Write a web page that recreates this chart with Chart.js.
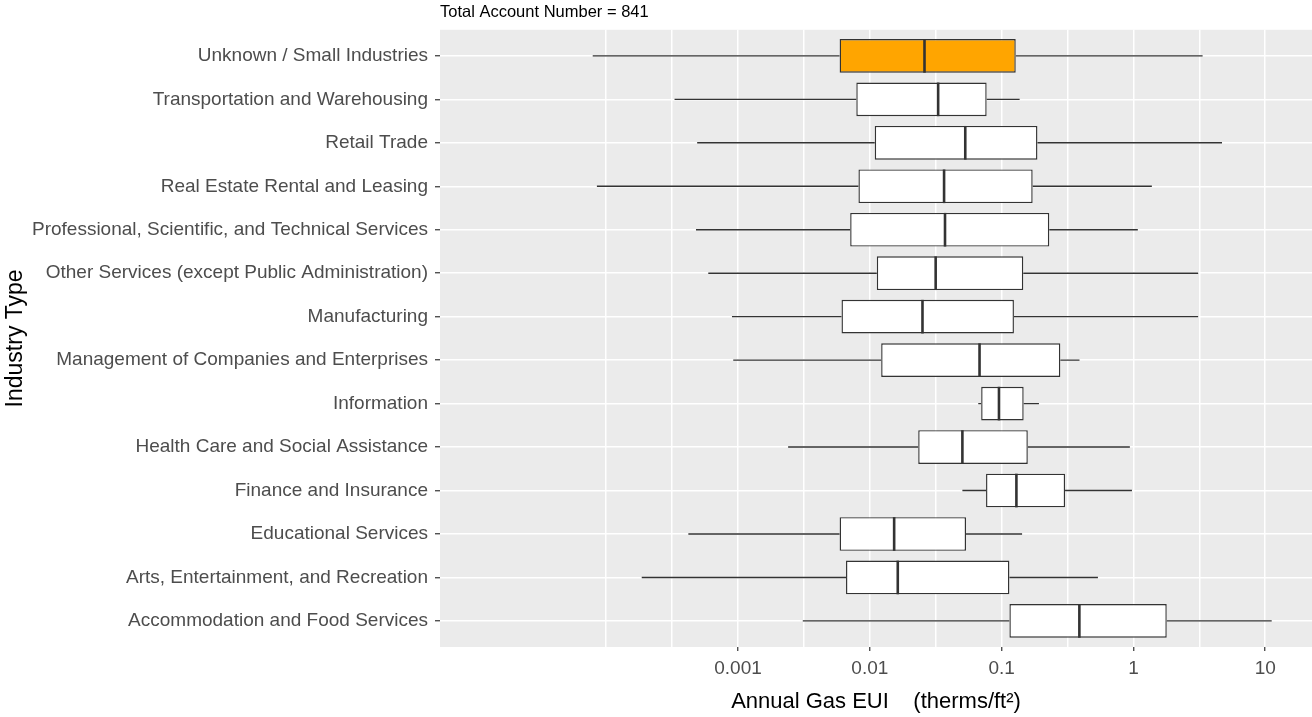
<!DOCTYPE html>
<html>
<head>
<meta charset="utf-8">
<title>Annual Gas EUI by Industry Type</title>
<script src="https://cdn.jsdelivr.net/npm/chart.js@4.4.0/dist/chart.umd.min.js"></script>
<style>
  body { margin: 0; background: #fff; }
  canvas { display: block; }
</style>
</head>
<body>
<canvas id="canvas" width="1312" height="717"></canvas>
<script>

//DATA - boxplot stats (therms/ft2)

const industries = [
  'Unknown / Small Industries',
  'Transportation and Warehousing',
  'Retail Trade',
  'Real Estate Rental and Leasing',
  'Professional, Scientific, and Technical Services',
  'Other Services (except Public Administration)',
  'Manufacturing',
  'Management of Companies and Enterprises',
  'Information',
  'Health Care and Social Assistance',
  'Finance and Insurance',
  'Educational Services',
  'Arts, Entertainment, and Recreation',
  'Accommodation and Food Services'
]

const whiskerLow  = [0.000079, 0.00033, 0.00049, 0.000085, 0.00048, 0.000595, 0.0009, 0.00092, 0.0665, 0.0024, 0.0504, 0.00042, 0.000186, 0.0031]
const q1          = [0.0059, 0.0079, 0.0109, 0.0082, 0.0071, 0.0113, 0.0061, 0.0122, 0.070, 0.0233, 0.0762, 0.0059, 0.0066, 0.1146]
const median      = [0.026, 0.033, 0.053, 0.0366, 0.0372, 0.0316, 0.0251, 0.068, 0.0955, 0.0504, 0.1295, 0.0153, 0.0163, 0.389]
const q3          = [0.128, 0.077, 0.187, 0.172, 0.23, 0.146, 0.124, 0.279, 0.147, 0.158, 0.303, 0.0537, 0.1146, 1.79]
const whiskerHigh = [3.35, 0.137, 4.7, 1.38, 1.08, 3.1, 3.1, 0.39, 0.192, 0.94, 0.975, 0.143, 0.538, 11.2]

const xTickValues = [0.001, 0.01, 0.1, 1, 10]
const xTickLabels = ['0.001', '0.01', '0.1', '1', '10']
const xGridValues = [0.0001, 0.000316, 0.001, 0.00316, 0.01, 0.0316, 0.1, 0.316, 1, 3.16, 10]

const totalAccounts = 841
const highlighted = 'Unknown / Small Industries'

//AXIS LIMITS (log range of the panel, ggplot keeps room for hidden outliers)
const xMin = Math.pow(10, -5.261)
const xMax = Math.pow(10, 1.355)

//PLUGINS

// grey panel behind the grid
const panelBackground = {
  id: 'panelBackground',
  beforeDraw(chart) {
    const { ctx, chartArea } = chart
    ctx.save()
    ctx.fillStyle = '#EBEBEB'
    ctx.fillRect(chartArea.left, chartArea.top, chartArea.width, chartArea.height)
    ctx.restore()
  }
}

// whiskers under the boxes, median on top
const boxWhiskers = {
  id: 'boxWhiskers',
  beforeDatasetsDraw(chart) {
    const { ctx, scales: { x, y } } = chart
    ctx.save()
    ctx.strokeStyle = '#333333'
    ctx.lineWidth = 1.4
    industries.forEach((name, i) => {
      let yy = y.getPixelForValue(i)
      ctx.beginPath()
      ctx.moveTo(x.getPixelForValue(whiskerLow[i]), yy)
      ctx.lineTo(x.getPixelForValue(q1[i]), yy)
      ctx.moveTo(x.getPixelForValue(q3[i]), yy)
      ctx.lineTo(x.getPixelForValue(whiskerHigh[i]), yy)
      ctx.stroke()
    })
    ctx.restore()
  },
  afterDatasetsDraw(chart) {
    const { ctx, scales: { x } } = chart
    const meta = chart.getDatasetMeta(0)
    ctx.save()
    ctx.strokeStyle = '#333333'
    ctx.lineWidth = 2.6
    meta.data.forEach((bar, i) => {
      let mx = x.getPixelForValue(median[i])
      let half = bar.height / 2
      ctx.beginPath()
      ctx.moveTo(mx, bar.y - half)
      ctx.lineTo(mx, bar.y + half)
      ctx.stroke()
    })
    ctx.restore()
  }
}

//CHART

Chart.defaults.font.family = '"Liberation Sans", Arial, sans-serif'

var ctx = document.getElementById('canvas').getContext('2d')
window.boxChart = new Chart(ctx, {
  type: 'bar',
  data: {
    datasets: [{
      data: industries.map((name, i) => ({ y: i, x: [q1[i], q3[i]] })),
      backgroundColor: industries.map(name => name === highlighted ? '#FFA500' : '#FFFFFF'),
      borderColor: '#333333',
      borderWidth: 1.4,
      borderSkipped: false,
      categoryPercentage: 1,
      barPercentage: 0.775
    }]
  },
  options: {
    indexAxis: 'y',
    responsive: false,
    animation: false,
    layout: { padding: 0 },
    plugins: {
      legend: { display: false },
      tooltip: { enabled: false },
      title: {
        display: true,
        text: 'Total Account Number = ' + totalAccounts,
        align: 'start',
        fullSize: false,
        color: '#000000',
        font: { size: 16.5, weight: 'normal' },
        padding: { top: 3, bottom: 7 }
      }
    },
    scales: {
      x: {
        type: 'logarithmic',
        position: 'bottom',
        min: xMin,
        max: xMax,
        afterBuildTicks: scale => {
          scale.ticks = xGridValues.map(v => ({ value: v }))
        },
        afterFit: scale => { scale.height = 70 },
        ticks: {
          autoSkip: false,
          maxRotation: 0,
          color: '#4D4D4D',
          font: { size: 19 },
          padding: 6,
          callback: value => {
            let k = xTickValues.indexOf(value)
            return k >= 0 ? xTickLabels[k] : ''
          }
        },
        grid: {
          color: '#FFFFFF',
          lineWidth: 1.5,
          tickLength: 4,
          tickWidth: 1.2,
          tickColor: c => (c.tick && xTickValues.indexOf(c.tick.value) >= 0) ? '#333333' : 'rgba(0,0,0,0)'
        },
        border: { display: false },
        title: {
          display: true,
          text: 'Annual Gas EUI    (therms/ft²)',
          color: '#000000',
          font: { size: 22 },
          padding: { bottom: 2 }
        }
      },
      y: {
        type: 'linear',
        reverse: true,
        offset: false,
        min: -0.6,
        max: 13.6,
        afterBuildTicks: scale => {
          scale.ticks = industries.map((name, i) => ({ value: i }))
        },
        afterFit: scale => { scale.width = 440 },
        ticks: {
          autoSkip: false,
          color: '#4D4D4D',
          font: { size: 19 },
          padding: 7,
          callback: value => industries[value] || ''
        },
        grid: {
          offset: false,
          color: '#FFFFFF',
          lineWidth: 1.5,
          tickLength: 5,
          tickWidth: 1.2,
          tickColor: '#333333'
        },
        border: { display: false },
        title: {
          display: true,
          text: 'Industry Type',
          color: '#000000',
          font: { size: 23 },
          padding: { top: 2 }
        }
      }
    }
  },
  plugins: [panelBackground, boxWhiskers]
})

</script>
</body>
</html>
